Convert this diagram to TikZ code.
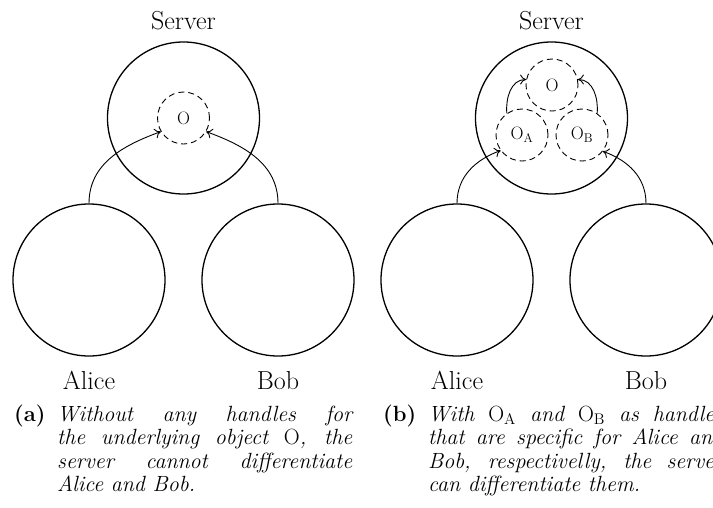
\RequirePackage{fix-cm}
\documentclass[tikz,border=0pt]{standalone}
\usetikzlibrary{arrows.meta}
\tikzset{
  big/.style={circle, draw, line width=1.3pt, minimum size=152pt, inner sep=0pt},
  obj/.style={circle, draw, dash pattern=on 6pt off 4pt, line width=0.9pt, minimum size=52pt, inner sep=0pt, font=\fontsize{18}{20}\selectfont},
  lbl/.style={anchor=base, inner sep=0pt, font=\fontsize{26}{30}\selectfont},
  conn/.style={line width=0.9pt, -{Computer Modern Rightarrow[length=6pt, width=10pt]}},
  capt/.style={anchor=base west, inner sep=0pt, font=\fontsize{22}{23.5}\selectfont},
}
\begin{document}
\begin{tikzpicture}[x=1pt, y=-1pt]
\useasboundingbox (0,0) rectangle (713,507);
\clip (0,0) rectangle (713,507);
% ---------- panel (a)
\node[big] (srvA) at (183.5,118) {};
\node[obj] (oA) at (183.5,118) {O};
\node[big] (aliceA) at (89,280) {};
\node[big] (bobA) at (278,280) {};
\node[lbl] (tsrvA) at (183.5,29) {Server};
\node[lbl] (taliceA) at (89,389) {Alice};
\node[lbl] (tbobA) at (278,389) {Bob};
\draw[conn] (aliceA.north) to[out=90, in=200] (oA.211);
\draw[conn] (bobA.north) to[out=90, in=-20] (oA.-31);
\node[capt] (labA) at (14,421) {\textbf{(a)}};
\node[capt] (capA) at (57,421) {\parbox[t]{295pt}{\itshape Without any handles for\linebreak the underlying object $\mathrm{O}$, the\linebreak server cannot differentiate\linebreak Alice and Bob.}};
% ---------- panel (b)
\node[big] (srvB) at (551.5,118) {};
\node[obj] (oB) at (552,85) {O};
\node[obj] (oa) at (522,135) {$\mathrm{O}_\mathrm{A}$};
\node[obj] (ob) at (582,135) {$\mathrm{O}_\mathrm{B}$};
\node[big] (aliceB) at (457,280) {};
\node[big] (bobB) at (646,280) {};
\node[lbl] (tsrvB) at (551.5,29) {Server};
\node[lbl] (taliceB) at (457,389) {Alice};
\node[lbl] (tbobB) at (646,389) {Bob};
\draw[conn] (oa.125) to[out=95, in=180] (oB.168);
\draw[conn] (ob.55) to[out=85, in=0] (oB.12);
\draw[conn] (aliceB.north) to[out=90, in=200] (oa.216);
\draw[conn] (bobB.north) to[out=90, in=-20] (ob.-38);
\node[capt] (labB) at (383,421) {\textbf{(b)}};
\node[capt] (capB) at (428,421) {\parbox[t]{295pt}{\itshape With $\mathrm{O}_\mathrm{A}$ and $\mathrm{O}_\mathrm{B}$ as handles\linebreak that are specific for Alice and\linebreak Bob, respectivelly, the server\linebreak can differentiate them.}};
\end{tikzpicture}
\end{document}
